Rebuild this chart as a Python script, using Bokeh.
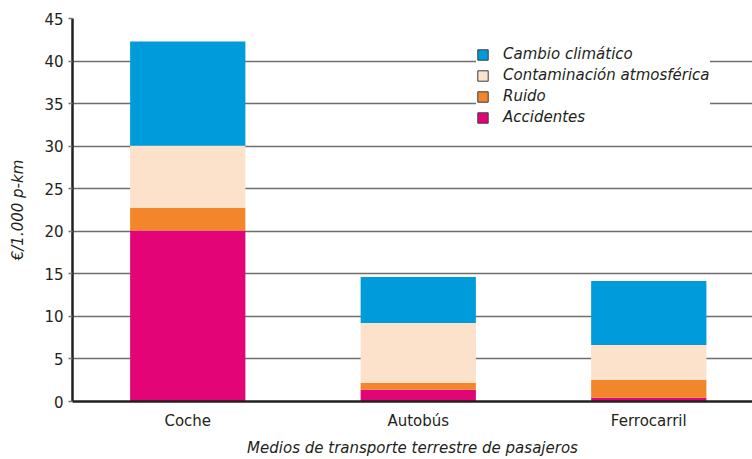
from bokeh.plotting import figure
from bokeh.models import Range1d, FixedTicker, Legend, LegendItem, ColumnDataSource
from bokeh.embed import file_html
from bokeh.resources import INLINE

categories = ["Coche", "Autobús", "Ferrocarril"]
x_pos = [0.5, 1.5, 2.5]
accidentes = [20.1, 1.37, 0.43]
ruido = [2.65, 0.82, 2.11]
contaminacion = [7.3, 7.03, 4.11]
cambio = [12.25, 5.4, 7.5]
series = ["Accidentes", "Ruido", "Contaminación atmosférica", "Cambio climático"]
colors = ["#E30577", "#F3862B", "#FCE1CB", "#009BDB"]
y_ticks = [0, 5, 10, 15, 20, 25, 30, 35, 40, 45]

src = ColumnDataSource(dict(x=x_pos, Accidentes=accidentes, Ruido=ruido,
                            **{"Contaminación atmosférica": contaminacion,
                               "Cambio climático": cambio}))

FONT = "DejaVu Sans"

p = figure(width=752, height=459, output_backend="svg", toolbar_location=None,
           x_range=Range1d(0, 2.95), y_range=Range1d(0, 45),
           min_border_left=72, min_border_right=0, min_border_top=18,
           min_border_bottom=57)
p.outline_line_color = None

# legend swatches with a thin dark outline (degenerate, hidden under the axis)
swatches = [p.vbar(x=x_pos, top=0, width=0, fill_color=c, line_color="#3a3a3a",
                   line_width=1) for c in colors]

rs = p.vbar_stack(series, x="x", width=0.5, source=src, color=colors, line_color=None)

# axes
p.xaxis.ticker = FixedTicker(ticks=x_pos)
p.xaxis.major_label_overrides = {x: c for x, c in zip(x_pos, categories)}
p.xaxis.major_tick_line_color = None
p.xaxis.minor_tick_line_color = None
p.xaxis.axis_line_width = 2.5
p.xaxis.axis_line_color = "#231f20"
p.xaxis.major_label_text_font = FONT
p.xaxis.major_label_text_font_size = "15px"
p.xaxis.major_label_text_color = "#231f20"
p.xaxis.major_label_standoff = 4
p.xaxis.axis_label = "Medios de transporte terrestre de pasajeros"
p.xaxis.axis_label_text_font = FONT
p.xaxis.axis_label_text_font_style = "italic"
p.xaxis.axis_label_text_font_size = "15px"
p.xaxis.axis_label_text_color = "#231f20"
p.xaxis.axis_label_standoff = 6

p.yaxis.ticker = FixedTicker(ticks=y_ticks)
p.yaxis.axis_line_width = 2.5
p.yaxis.axis_line_color = "#231f20"
p.yaxis.major_tick_out = 4
p.yaxis.major_tick_in = 0
p.yaxis.major_tick_line_color = "#777777"
p.yaxis.major_tick_line_width = 1.5
p.yaxis.minor_tick_line_color = None
p.yaxis.major_label_text_font = FONT
p.yaxis.major_label_text_font_size = "15px"
p.yaxis.major_label_text_color = "#231f20"
p.yaxis.major_label_standoff = 5
p.yaxis.axis_label = "€/1.000 p-km"
p.yaxis.axis_label_text_font = FONT
p.yaxis.axis_label_text_font_style = "italic"
p.yaxis.axis_label_text_font_size = "15px"
p.yaxis.axis_label_text_color = "#231f20"
p.yaxis.axis_label_standoff = 14

p.xgrid.grid_line_color = None
p.ygrid.grid_line_color = "#6e6e6e"
p.ygrid.grid_line_width = 1.5

items = [LegendItem(label=s, renderers=[r]) for s, r in zip(series, swatches)][::-1]
legend = Legend(items=items, location=(404, 274), orientation="vertical",
                background_fill_color="white", background_fill_alpha=1.0,
                border_line_color=None, padding=8, margin=0, spacing=1,
                glyph_width=13, glyph_height=13, label_height=20,
                label_standoff=14,
                label_text_font=FONT, label_text_font_style="italic",
                label_text_font_size="15px", label_text_color="#231f20")
p.add_layout(legend, "center")

open("out.html", "w").write(file_html(p, INLINE))
